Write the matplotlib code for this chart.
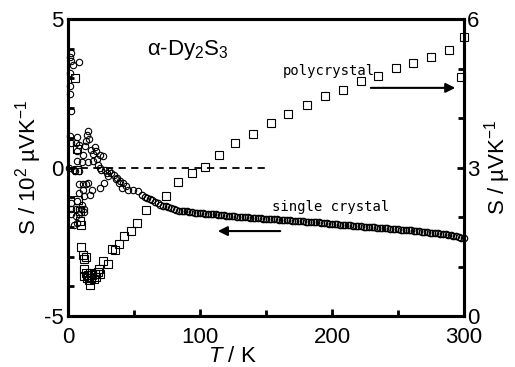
import numpy as np
import matplotlib
matplotlib.use("Agg")
import matplotlib.pyplot as plt

plt.rcParams['font.family'] = ['Liberation Sans', 'DejaVu Sans']
plt.rcParams['mathtext.fontset'] = 'custom'
plt.rcParams['mathtext.rm'] = 'Liberation Sans'
plt.rcParams['mathtext.it'] = 'Liberation Sans:italic'
plt.rcParams['mathtext.default'] = 'regular'
plt.rcParams['axes.unicode_minus'] = False

# single crystal (left axis, 10^2 uV/K) - scattered low-T part
single_T_low = [2.0, 1.8, 2.2, 3.5, 8.3, 1.8, 1.8, 2.0, 1.8,
                1.8, 6.5, 14.5, 15.5, 13.5, 2.0, 5.8, 8.3, 12.6, 6.8,
                20.5, 19.2, 21.0, 24.0, 11.5, 7.0, 10.8, 15.0, 19.0, 22.5,
                0.8, 4.5, 24.5, 26.8, 25.0, 5.0, 8.5, 28.0, 29.8, 31.0,
                32.5, 34.8, 37.0, 39.4, 27.0, 38.5, 42.0, 40.8, 45.7, 49.5,
                53.0, 24.5, 18.4, 15.0, 13.3, 11.0, 8.3, 11.0, 8.3, 17.0,
                12.0, 7.0, 2.0, 10.8, 2.0, 5.8, 9.5, 12.0, 2.0, 5.8,
                8.3, 12.0, 7.0, 4.5, 17.5, 16.0, 22.0, 30.5, 36.0, 44.0]
single_S_low = [3.86, 3.73, 3.58, 3.47, 3.55, 2.76, 2.48, 1.90, 3.20,
                1.05, 1.02, 1.10, 1.22, 0.89, 0.83, 0.83, 0.75, 0.72, 0.55,
                0.68, 0.46, 0.55, 0.41, 0.41, 0.21, 0.19, 0.19, 0.23, 0.10,
                0.00, -0.07, 0.00, 0.40, -0.07, -0.12, -0.12, -0.07, -0.18, -0.12,
                -0.18, -0.24, -0.35, -0.46, -0.52, -0.52, -0.52, -0.68, -0.74, -0.76,
                -0.80, -0.68, -0.74, -0.52, -0.57, -0.57, -0.57, -0.74, -0.85, -0.91,
                -0.97, -1.13, -1.19, -1.25, -1.41, -1.41, -1.41, -1.50, -1.58, -1.64,
                -1.58, -1.41, -1.86, -1.92, 0.60, 0.95, 0.30, -0.30, -0.40, -0.62]

# single crystal - dense high-T part
single_T_high = [56, 58, 60, 62, 64, 66, 68, 70, 72, 74,
                 76, 78, 80, 82, 84, 86, 88, 90, 92, 94,
                 96, 98, 100, 102, 104, 106, 108, 110, 112, 114,
                 116, 118, 120, 122, 124, 126, 128, 130, 132, 134,
                 136, 138, 140, 142, 144, 146, 148, 150, 152, 154,
                 156, 158, 160, 162, 164, 166, 168, 170, 172, 174,
                 176, 178, 180, 182, 184, 186, 188, 190, 192, 194,
                 196, 198, 200, 202, 204, 206, 208, 210, 212, 214,
                 216, 218, 220, 222, 224, 226, 228, 230, 232, 234,
                 236, 238, 240, 242, 244, 246, 248, 250, 252, 254,
                 256, 258, 260, 262, 264, 266, 268, 270, 272, 274,
                 276, 278, 280, 282, 284, 286, 288, 290, 292, 294,
                 296, 298, 300]
single_S_high = [-0.93, -0.99, -1.03, -1.07, -1.11, -1.16, -1.21, -1.25, -1.28, -1.31,
                 -1.34, -1.37, -1.40, -1.43, -1.45, -1.46, -1.47, -1.48, -1.49, -1.51,
                 -1.52, -1.53, -1.53, -1.54, -1.55, -1.56, -1.57, -1.58, -1.58, -1.59,
                 -1.60, -1.61, -1.62, -1.62, -1.63, -1.64, -1.65, -1.65, -1.66, -1.67,
                 -1.68, -1.69, -1.69, -1.70, -1.71, -1.71, -1.72, -1.73, -1.73, -1.74,
                 -1.75, -1.75, -1.76, -1.77, -1.77, -1.78, -1.78, -1.79, -1.79, -1.80,
                 -1.81, -1.81, -1.82, -1.82, -1.83, -1.84, -1.84, -1.85, -1.86, -1.87,
                 -1.88, -1.89, -1.89, -1.90, -1.91, -1.92, -1.93, -1.94, -1.95, -1.95,
                 -1.96, -1.97, -1.97, -1.98, -1.99, -1.99, -2.00, -2.01, -2.01, -2.02,
                 -2.03, -2.04, -2.04, -2.05, -2.06, -2.06, -2.07, -2.08, -2.09, -2.09,
                 -2.10, -2.11, -2.12, -2.13, -2.14, -2.15, -2.16, -2.17, -2.18, -2.19,
                 -2.20, -2.21, -2.22, -2.23, -2.24, -2.25, -2.27, -2.28, -2.30, -2.32,
                 -2.34, -2.36, -2.38]

# polycrystal (right axis, uV/K)
poly_T = [5.5, 6.5, 6.8, 7.5, 9.0, 9.3, 9.6, 10.2, 11.3, 12.5,
          13.3, 12.0, 12.5, 13.5, 14.5, 15.5, 16.0, 17.0, 17.5, 18.5,
          19.5, 20.5, 21.5, 22.5, 16.7, 23.5, 24.5, 26.5, 30.0, 33.0,
          35.6, 38.6, 42.7, 47.7, 52.5, 58.9, 74.0, 83.5, 94.0, 104.0,
          114.4, 126.3, 140.2, 153.6, 166.9, 180.8, 194.5, 208.1, 221.7, 234.6,
          248.3, 261.6, 275.2, 288.6, 297.5, 300.0]
poly_S = [4.81, 3.37, 2.95, 2.34, 2.12, 1.92, 1.84, 1.39, 1.23, 1.15,
          1.20, 0.94, 0.80, 0.86, 0.76, 0.82, 0.73, 0.86, 0.77, 0.82,
          0.75, 0.84, 0.79, 0.88, 0.62, 0.94, 0.85, 1.12, 1.05, 1.36,
          1.33, 1.46, 1.62, 1.72, 1.88, 2.14, 2.43, 2.71, 2.89, 3.01,
          3.25, 3.49, 3.68, 3.91, 4.09, 4.27, 4.45, 4.57, 4.74, 4.84,
          5.02, 5.11, 5.23, 5.38, 4.82, 5.64]

fig = plt.figure(figsize=(5.15, 3.67), dpi=100)
ax = fig.add_axes([0.132, 0.139, 0.769, 0.809])
ax2 = ax.twinx()

# 単結晶 (左軸)
ax.plot(single_T_low, single_S_low, 'o', ms=4.6, mfc='none', mec='black', mew=0.8, clip_on=False)
ax.plot(single_T_high, single_S_high, 'o', ms=4.6, mfc='none', mec='black', mew=0.9, clip_on=False)
ax.plot([0, 149], [0, 0], '--', color='black', lw=1.3, dashes=(4, 3))

# 多結晶 (右軸)
ax2.plot(poly_T, poly_S, 's', ms=5.2, mfc='none', mec='black', mew=0.8, clip_on=False)

ax.set_xlim(0, 300)
ax.set_ylim(-5, 5)
ax2.set_ylim(0, 6)

ax.set_xticks([0, 100, 200, 300])
ax.set_xticks([50, 150, 250], minor=True)
ax.set_yticks([-5, 0, 5])
ax.set_yticks([-4, -3, -2, -1, 1, 2, 3, 4], minor=True)
ax2.set_yticks([0, 3, 6])
ax2.set_yticks([1, 2, 4, 5], minor=True)

for a in (ax, ax2):
    for s in a.spines.values():
        s.set_linewidth(2.2)
    a.tick_params(which='both', direction='in', width=2, labelsize=16, top=False)
    a.tick_params(which='major', length=5, pad=3)
    a.tick_params(which='minor', length=4)
ax.tick_params(which='both', right=False)
ax.tick_params(axis='x', pad=8)
ax2.tick_params(which='both', left=False, right=True)
ax2.tick_params(axis='y', pad=2)

ax.set_ylabel('S / 10$^{2}$ µVK$^{-1}$', fontsize=16, labelpad=0)
ax2.set_ylabel('S / µVK$^{-1}$', fontsize=16, labelpad=2)
ax.set_xlabel('$\\mathit{T}$ / K', fontsize=16)
ax.xaxis.set_label_coords(0.414, -0.10)

ax.text(0.20, 0.895, '$\\alpha$-Dy$_2$S$_3$', transform=ax.transAxes, fontsize=16, va='center', ha='left')
ax2.text(162.9, 4.87, 'polycrystal', family='DejaVu Sans Mono', fontsize=10, va='baseline')
ax.text(154.5, -1.45, 'single crystal', family='DejaVu Sans Mono', fontsize=10, va='baseline')

ax2.annotate('', xy=(295.5, 4.61), xytext=(227.3, 4.61),
             arrowprops=dict(arrowstyle='-|>', color='black', lw=1.5, mutation_scale=14))
ax.annotate('', xy=(111.4, -2.14), xytext=(162.9, -2.14),
            arrowprops=dict(arrowstyle='-|>', color='black', lw=1.5, mutation_scale=14))

fig.savefig('out.png', dpi=100)
